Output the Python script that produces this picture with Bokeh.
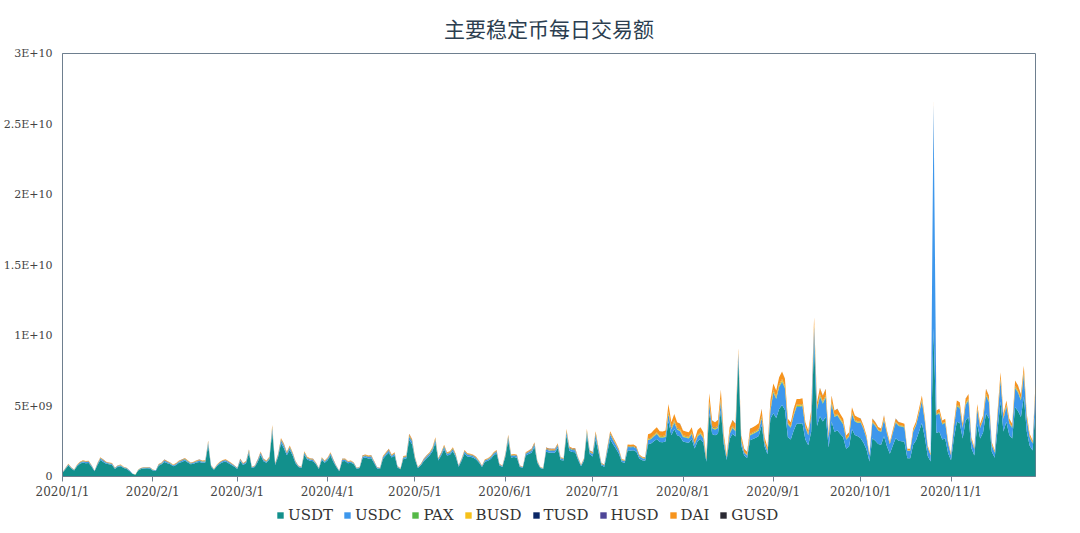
import pandas as pd
from bokeh.plotting import figure
from bokeh.layouts import column
from bokeh.models import (ColumnDataSource, Range1d, FixedTicker, CustomJSTickFormatter,
                          Legend, LegendItem)
from bokeh.embed import file_html
from bokeh.resources import INLINE

# ---------------- data (daily volume, millions of USD) ----------------
START = "2020-01-01"
UNIT = 1e6

USDT = [
 258,516,774,559,430,731,903,989,946,963,688,370,817,1178,1032,903,860,817,533,688,731,602,533,387,189,120,430,533,559,585,568,
 430,387,757,860,1032,946,860,731,817,972,1032,1135,989,860,903,989,1032,972,989,2193,688,473,731,903,1015,1058,946,817,688,
 533,1075,817,946,1643,602,671,1032,1522,1075,972,1204,3148,817,1376,2356,1995,1505,1892,1488,946,671,602,1548,1204,1118,1075,860,533,1178,972,
 1161,1488,1032,671,370,1075,1101,946,972,860,533,602,1290,1342,1281,1290,946,568,533,1247,1488,1686,1342,1488,645,507,1247,1281,2606,2296,
 1204,602,774,1075,1290,1488,1789,2399,1135,1488,1935,1488,1548,1789,1376,688,1118,1625,1419,1393,1333,1204,972,671,1049,1118,1247,1488,1625,774,671,
 1376,2546,1342,1376,1333,671,619,1488,1591,1686,2090,972,602,525,1763,1703,1686,1686,2030,1178,1135,2907,1832,1746,1720,1178,731,1118,2907,1582,
 1419,2640,1706,779,697,1706,2640,2288,1968,1607,1025,968,1861,1845,1861,1763,1279,1148,1123,2280,2333,2508,2660,2447,2432,2478,3914,2926,3374,2926,2842,
 2478,2432,2386,2660,1991,2508,2660,2386,1041,4492,3017,2926,3040,4674,2280,1178,2660,3040,2842,8300,2204,1490,1315,2569,2660,2751,2873,3648,2120,1581,4096,
 4488,4148,4787,5066,4712,2788,2618,3264,3740,3740,3774,2618,2217,3182,9600,3584,4277,3903,4230,2060,3903,3182,3264,3019,2788,1972,2135,3346,2944,2863,
 2706,2376,1914,1063,2706,2541,2310,2244,2858,2152,1617,2178,2706,2541,2508,2468,1294,1294,2244,2574,3168,3788,2779,1452,1063,10500,3089,3168,2620,2699,1650,
 1159,2736,3881,3794,2693,3967,4219,2009,1498,3708,2693,3118,4478,4133,1750,1325,3370,5328,3197,3881,2945,2693,4903,4644,4219,5666,3197,2182,1836,4752,
]
USDC = [
 21,42,63,46,35,60,74,81,77,78,56,30,67,96,84,74,70,67,43,56,60,49,43,32,15,10,35,43,46,48,46,
 35,32,62,70,84,77,70,60,67,79,84,92,81,70,74,81,84,79,81,179,56,39,60,74,83,86,77,67,56,
 43,88,67,77,134,49,55,84,124,88,79,98,256,67,112,192,162,123,154,121,77,55,49,126,98,91,88,70,43,96,79,
 95,121,84,55,30,88,90,77,79,70,43,49,105,109,104,105,77,46,43,102,121,137,109,121,53,41,102,104,212,187,
 98,49,63,88,105,121,146,195,92,121,158,121,126,146,112,56,91,132,116,113,109,98,79,55,85,91,102,121,132,63,55,
 112,207,109,112,109,55,50,121,130,137,170,79,49,43,144,139,137,137,165,96,92,237,149,142,140,96,60,91,237,129,
 173,322,208,95,85,208,322,279,240,196,125,118,227,225,227,215,156,140,137,300,307,330,350,322,320,326,515,385,444,385,374,
 326,320,314,350,262,330,350,314,137,591,397,385,400,615,300,155,350,400,374,450,290,196,173,338,350,362,378,480,279,208,539,
 1452,1342,1549,1639,1525,902,847,1056,1210,1210,1221,847,717,1030,1000,1159,1384,1263,1368,667,1263,1030,1056,977,902,638,691,1082,953,926,
 1107,972,783,435,1107,1040,945,918,1169,880,662,891,1107,1040,1026,1010,529,529,918,1053,1296,1550,1137,594,435,15900,1264,1296,1072,1104,675,
 322,760,1078,1054,748,1102,1172,558,416,1030,748,866,1244,1148,486,368,936,1480,888,1078,818,748,1362,1290,1172,1574,888,606,510,1320,
]
PAX = [
 4,7,11,8,6,10,13,14,13,13,10,5,11,16,14,13,12,11,7,10,10,8,7,5,3,2,6,7,8,8,8,
 6,5,11,12,14,13,12,10,11,14,14,16,14,12,13,14,14,14,14,31,10,7,10,13,14,15,13,11,10,
 7,15,11,13,23,8,9,14,21,15,14,17,44,11,19,33,28,21,26,21,13,9,8,22,17,16,15,12,7,16,14,
 16,21,14,9,5,15,15,13,14,12,7,8,18,19,18,18,13,8,7,17,21,24,19,21,9,7,17,18,36,32,
 17,8,11,15,18,21,25,33,16,21,27,21,22,25,19,10,16,23,20,19,19,17,14,9,15,16,17,21,23,11,9,
 19,36,19,19,19,9,9,21,22,24,29,14,8,7,25,24,24,24,28,16,16,41,26,24,24,16,10,16,41,22,
 21,39,25,11,10,25,39,33,29,24,15,14,27,27,27,26,19,17,16,30,31,33,35,32,32,33,52,39,44,39,37,
 33,32,31,35,26,33,35,31,14,59,40,39,40,62,30,16,35,40,37,30,29,20,17,34,35,36,38,48,28,21,54,
 66,61,70,75,69,41,39,48,55,55,56,39,33,47,60,53,63,57,62,30,57,47,48,44,41,29,31,49,43,42,
 33,29,23,13,33,31,28,27,35,26,20,26,33,31,30,30,16,16,27,31,38,46,34,18,13,30,37,38,32,33,20,
 13,30,43,42,30,44,47,22,17,41,30,35,50,46,19,15,37,59,36,43,33,30,54,52,47,63,36,24,20,53,
]
BUSD = [
 3,6,9,7,5,9,11,12,11,11,8,4,10,14,12,11,10,10,6,8,9,7,6,5,2,1,5,6,7,7,7,
 5,5,9,10,12,11,10,9,10,11,12,13,12,10,11,12,12,11,12,26,8,6,9,11,12,12,11,10,8,
 6,13,10,11,19,7,8,12,18,13,11,14,37,10,16,27,23,18,22,17,11,8,7,18,14,13,13,10,6,14,11,
 14,17,12,8,4,13,13,11,11,10,6,7,15,16,15,15,11,7,6,15,17,20,16,17,8,6,15,15,30,27,
 14,7,9,13,15,17,21,28,13,17,23,17,18,21,16,8,13,19,17,16,16,14,11,8,12,13,15,17,19,9,8,
 16,30,16,16,16,8,7,17,19,20,24,11,7,6,21,20,20,20,24,14,13,34,21,20,20,14,9,13,34,18,
 21,39,25,11,10,25,39,33,29,24,15,14,27,27,27,26,19,17,16,60,61,66,70,64,64,65,103,77,89,77,75,
 65,64,63,70,52,66,70,63,27,118,79,77,80,123,60,31,70,80,75,50,58,39,35,68,70,72,76,96,56,42,108,
 99,92,106,112,104,62,58,72,83,83,83,58,49,70,90,79,94,86,93,45,86,70,72,67,62,44,47,74,65,63,
 41,36,29,16,41,39,35,34,43,33,25,33,41,39,38,37,20,20,34,39,48,57,42,22,16,50,47,48,40,41,25,
 19,46,65,63,45,66,70,33,25,62,45,52,75,69,29,22,56,89,53,65,49,45,82,77,70,94,53,36,31,79,
]
TUSD = [
 3,5,8,6,5,8,9,10,10,10,7,4,9,12,11,9,9,9,6,7,8,6,6,4,2,1,5,6,6,6,6,
 5,4,8,9,11,10,9,8,9,10,11,12,10,9,9,10,11,10,10,23,7,5,8,9,11,11,10,9,7,
 6,11,9,10,17,6,7,11,16,11,10,13,33,9,14,25,21,16,20,16,10,7,6,16,13,12,11,9,6,12,10,
 12,16,11,7,4,11,12,10,10,9,6,6,14,14,13,14,10,6,6,13,16,18,14,16,7,5,13,13,27,24,
 13,6,8,11,14,16,19,25,12,16,20,16,16,19,14,7,12,17,15,15,14,13,10,7,11,12,13,16,17,8,7,
 14,27,14,14,14,7,6,16,17,18,22,10,6,5,18,18,18,18,21,12,12,30,19,18,18,12,8,12,30,17,
 16,29,19,9,8,19,29,25,22,18,11,11,20,20,20,19,14,13,12,18,18,20,21,19,19,20,31,23,27,23,22,
 20,19,19,21,16,20,21,19,8,35,24,23,24,37,18,9,21,24,22,10,17,12,10,20,21,22,23,29,17,12,32,
 20,18,21,22,21,12,12,14,17,17,17,12,10,14,20,16,19,17,19,9,17,14,14,13,12,9,9,15,13,13,
 8,7,6,3,8,8,7,7,9,7,5,7,8,8,8,7,4,4,7,8,10,11,8,4,3,10,9,10,8,8,5,
 5,11,16,16,11,17,18,8,6,15,11,13,19,17,7,6,14,22,13,16,12,11,20,19,18,24,13,9,8,20,
]
HUSD = [
 2,4,5,4,3,5,6,7,7,7,5,3,6,8,7,6,6,6,4,5,5,4,4,3,1,1,3,4,4,4,4,
 3,3,5,6,7,7,6,5,6,7,7,8,7,6,6,7,7,7,7,15,5,3,5,6,7,7,7,6,5,
 4,8,6,7,11,4,5,7,11,8,7,8,22,6,10,16,14,11,13,10,7,5,4,11,8,8,8,6,4,8,7,
 8,10,7,5,3,8,8,7,7,6,4,4,9,9,9,9,7,4,4,9,10,12,9,10,5,4,9,9,18,16,
 8,4,5,8,9,10,12,17,8,10,14,10,11,12,10,5,8,11,10,10,9,8,7,5,7,8,9,10,11,5,5,
 10,18,9,10,9,5,4,10,11,12,15,7,4,4,12,12,12,12,14,8,8,20,13,12,12,8,5,8,20,11,
 7,13,8,4,3,8,13,11,10,8,5,5,9,9,9,9,6,6,5,6,6,7,7,6,6,7,10,8,9,8,7,
 7,6,6,7,5,7,7,6,3,12,8,8,8,12,6,3,7,8,7,5,6,4,3,7,7,7,8,10,6,4,11,
 7,6,7,7,7,4,4,5,6,6,6,4,3,5,5,5,6,6,6,3,6,5,5,4,4,3,3,5,4,4,
 4,4,3,2,4,4,4,3,4,3,2,3,4,4,4,4,2,2,3,4,5,6,4,2,2,5,5,5,4,4,3,
 2,4,5,5,4,6,6,3,2,5,4,4,6,6,2,2,5,7,4,5,4,4,7,6,6,8,4,3,3,7,
]
DAI = [
 9,18,27,20,15,26,32,35,33,34,24,13,29,41,36,32,30,29,19,24,26,21,19,14,7,4,15,19,20,20,20,
 15,14,26,30,36,33,30,26,29,34,36,40,35,30,32,35,36,34,35,77,24,17,26,32,35,37,33,29,24,
 19,38,29,33,57,21,23,36,53,38,34,42,110,29,48,82,70,53,66,52,33,23,21,54,42,39,38,30,19,41,34,
 41,52,36,23,13,38,38,33,34,30,19,21,45,47,45,45,33,20,19,44,52,59,47,52,23,18,44,45,91,80,
 42,21,27,38,45,52,62,84,40,52,68,52,54,62,48,24,39,57,50,49,47,42,34,23,37,39,44,52,57,27,23,
 48,89,47,48,47,23,22,52,56,59,73,34,21,18,62,59,59,59,71,41,40,101,64,61,60,41,26,39,101,55,
 69,129,83,38,34,83,129,112,96,78,50,47,91,90,91,86,62,56,55,300,307,330,350,322,320,326,515,385,444,385,374,
 326,320,314,350,262,330,350,314,137,591,397,385,400,615,300,155,350,400,374,250,290,196,173,338,350,362,378,480,279,208,539,
 462,427,493,522,485,287,270,336,385,385,389,270,228,328,520,369,440,402,435,212,402,328,336,311,287,203,220,344,303,295,
 205,180,145,81,205,193,175,170,217,163,123,165,205,193,190,187,98,98,170,195,240,287,211,110,81,200,234,240,199,205,125,
 89,209,296,290,206,303,322,153,114,283,206,238,342,316,134,101,257,407,244,296,225,206,375,355,322,433,244,167,140,363,
]
GUSD = [
 1,1,2,1,1,2,2,2,2,2,2,1,2,3,2,2,2,2,1,2,2,1,1,1,0,0,1,1,1,1,1,
 1,1,2,2,2,2,2,2,2,2,2,3,2,2,2,2,2,2,2,5,2,1,2,2,2,2,2,2,2,
 1,3,2,2,4,1,2,2,4,3,2,3,7,2,3,5,5,4,4,3,2,2,1,4,3,3,3,2,1,3,2,
 3,3,2,2,1,3,3,2,2,2,1,1,3,3,3,3,2,1,1,3,3,4,3,3,2,1,3,3,6,5,
 3,1,2,3,3,3,4,6,3,3,5,3,4,4,3,2,3,4,3,3,3,3,2,2,2,3,3,3,4,2,2,
 3,6,3,3,3,2,1,3,4,4,5,2,1,1,4,4,4,4,5,3,3,7,4,4,4,3,2,3,7,4,
 3,6,4,2,2,4,6,6,5,4,3,2,5,5,5,4,3,3,3,6,6,7,7,6,6,7,10,8,9,8,7,
 7,6,6,7,5,7,7,6,3,12,8,8,8,12,6,3,7,8,7,5,6,4,3,7,7,7,8,10,6,4,11,
 3,3,4,4,3,2,2,2,3,3,3,2,2,2,5,3,3,3,3,1,3,2,2,2,2,1,2,2,2,2,
 2,2,1,1,2,2,2,2,2,2,1,2,2,2,2,2,1,1,2,2,2,3,2,1,1,3,2,2,2,2,1,
 1,2,3,3,2,3,3,1,1,3,2,2,3,3,1,1,2,4,2,3,2,2,3,3,3,4,2,2,1,3,
]

SERIES = ["USDT", "USDC", "PAX", "BUSD", "TUSD", "HUSD", "DAI", "GUSD"]
COLORS = ["#12908C", "#3D97EC", "#55B947", "#F6C11A", "#0B2766", "#4E4697", "#F7941D", "#2B2A33"]
TITLE = "主要稳定币每日交易额"
X_TICK_DATES = ["2020-01-01", "2020-02-01", "2020-03-01", "2020-04-01", "2020-05-01", "2020-06-01",
                "2020-07-01", "2020-08-01", "2020-09-01", "2020-10-01", "2020-11-01"]
Y_TICKS = [0, 5e9, 1e10, 1.5e10, 2e10, 2.5e10, 3e10]

# ---------------- build ----------------
values = dict(USDT=USDT, USDC=USDC, PAX=PAX, BUSD=BUSD, TUSD=TUSD, HUSD=HUSD, DAI=DAI, GUSD=GUSD)
n = len(USDT)
for k, v in values.items():
    if len(v) != n:
        raise ValueError(f"{k} has {len(v)} values, expected {n}")

dates = pd.date_range(START, periods=n, freq="D")
src_data = {"date": dates}
for k in SERIES:
    src_data[k] = [x * UNIT for x in values[k]]
source = ColumnDataSource(src_data)

FONT = "DejaVu Serif"
AXIS_COLOR = "#6E7F8F"

p = figure(frame_width=973, frame_height=423, x_axis_type="datetime", output_backend="svg",
           toolbar_location=None,
           x_range=Range1d(dates[0], dates[-1]), y_range=Range1d(0, 3e10),
           min_border_left=0, min_border_right=36, min_border_top=0, min_border_bottom=0)

p.title.text = TITLE
p.title.align = "center"
p.title.text_font = "Noto Sans CJK SC"
p.title.text_font_size = "21px"
p.title.text_font_style = "normal"
p.title.text_color = "#2C3E50"
p.title.text_line_height = 1.0
p.title.standoff = 21

renderers = p.varea_stack(stackers=SERIES, x="date", color=COLORS, source=source)

p.xgrid.visible = False
p.ygrid.visible = False
p.outline_line_color = AXIS_COLOR
p.outline_line_width = 1
p.background_fill_color = "white"
p.border_fill_color = "white"

tick_ms = [int(pd.Timestamp(d).value // 10**6) for d in X_TICK_DATES]
p.xaxis.ticker = FixedTicker(ticks=tick_ms)
p.xaxis.formatter = CustomJSTickFormatter(code="""
const d = new Date(tick);
return d.getUTCFullYear() + "/" + (d.getUTCMonth() + 1) + "/" + d.getUTCDate();
""")
p.xaxis.major_tick_out = 5
p.xaxis.major_tick_in = 0
p.xaxis.minor_tick_line_color = None
p.xaxis.axis_line_color = AXIS_COLOR
p.xaxis.major_tick_line_color = AXIS_COLOR
p.xaxis.major_label_text_font = FONT
p.xaxis.major_label_text_font_size = "12px"
p.xaxis.major_label_text_color = "#444444"
p.xaxis.major_label_standoff = 3

p.yaxis.ticker = FixedTicker(ticks=Y_TICKS)
p.yaxis.formatter = CustomJSTickFormatter(code="""
if (tick == 0) { return "0"; }
const e = Math.floor(Math.log10(tick) + 1e-9);
const m = tick / Math.pow(10, e);
const es = e < 10 ? "0" + e : String(e);
return (Math.round(m * 10) / 10) + "E+" + es;
""")
p.yaxis.major_tick_out = 0
p.yaxis.major_tick_in = 0
p.yaxis.minor_tick_line_color = None
p.yaxis.axis_line_color = AXIS_COLOR
p.yaxis.major_label_text_font = FONT
p.yaxis.major_label_text_font_size = "11px"
p.yaxis.major_label_text_color = "#444444"
p.yaxis.major_label_standoff = 10

# ---- legend strip under the chart (same stacked series, shown only as legend) ----
lf = figure(frame_width=1064, frame_height=28, x_axis_type="datetime", output_backend="svg",
            toolbar_location=None, x_range=p.x_range, y_range=Range1d(-2, -1),
            x_axis_location=None, y_axis_location=None, min_border=0)
lf.outline_line_color = None
lf.xgrid.visible = False
lf.ygrid.visible = False
lf.background_fill_color = "white"
lf.border_fill_color = "white"
legend_renderers = lf.varea_stack(stackers=SERIES, x="date", color=COLORS, source=source)

legend = Legend(items=[LegendItem(label=s, renderers=[r]) for s, r in zip(SERIES, legend_renderers)],
                orientation="horizontal", location=(276, 5))
legend.glyph_width = 8
legend.glyph_height = 8
legend.label_standoff = 4
legend.spacing = 10
legend.padding = 0
legend.margin = 0
legend.label_height = 16
legend.border_line_color = None
legend.background_fill_alpha = 0
legend.label_text_font = FONT
legend.label_text_font_size = "15px"
legend.label_text_color = "#333333"
lf.add_layout(legend, "center")

layout = column(p, lf, spacing=0)
open("out.html", "w").write(file_html(layout, INLINE))
